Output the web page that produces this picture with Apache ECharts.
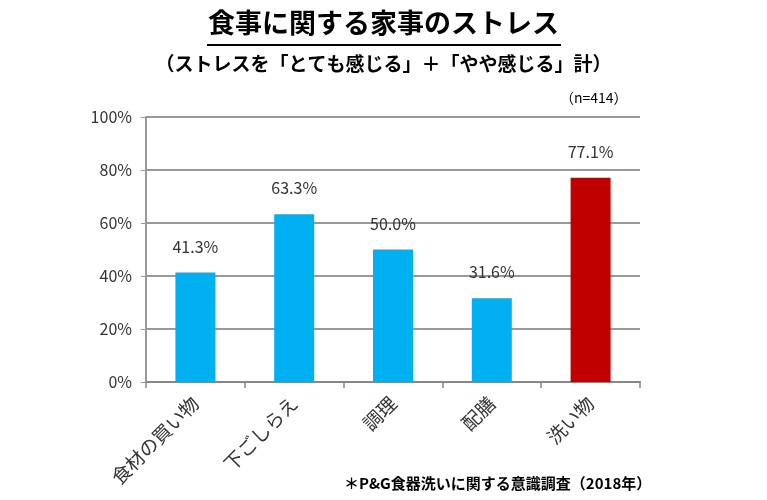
<!DOCTYPE html>
<html><head><meta charset="utf-8">
<script src="https://cdn.jsdelivr.net/npm/echarts@6/dist/echarts.min.js"></script>
<style>html,body{margin:0;padding:0;background:#fff}#c{width:767px;height:500px}</style>
</head><body><div id="c"></div>
<script>
const categories = ['食材の買い物','下ごしらえ','調理','配膳','洗い物'];
const values = [41.3, 63.3, 50.0, 31.6, 77.1];
const barColors = ['#00b0f0','#00b0f0','#00b0f0','#00b0f0','#c00000'];
const yTicks = [0, 20, 40, 60, 80, 100];
const titleText = '食事に関する家事のストレス';
const subtitleText = '（ストレスを「とても感じる」＋「やや感じる」計）';
const nText = '（n=414）';
const noteText = '＊P&G食器洗いに関する意識調査（2018年）';

const font = '"Noto Sans CJK JP", "Noto Sans", sans-serif';
const chart = echarts.init(document.getElementById('c'));
chart.setOption({
  animation: false,
  textStyle: { fontFamily: font },
  graphic: [
    { type: 'text', left: 'center', top: 9, style: { text: titleText, font: 'bold 27px ' + font, fill: '#000' } },
    { type: 'line', shape: { x1: 207, y1: 45, x2: 561, y2: 45 }, style: { stroke: '#000', lineWidth: 2 } },
    { type: 'text', left: 'center', top: 54, style: { text: subtitleText, font: 'bold 19px ' + font, fill: '#000' } },
    { type: 'text', left: 560, top: 91, style: { text: nText, font: '14px ' + font, fill: '#000' } },
    { type: 'text', left: 344, top: 476, style: { text: noteText, font: 'bold 15px ' + font, fill: '#000' } }
  ],
  grid: { left: 146, right: 127, top: 117, bottom: 118 },
  xAxis: {
    type: 'category', data: categories,
    axisLine: { lineStyle: { color: '#888', width: 2 } },
    axisTick: { show: true, length: 6, lineStyle: { color: '#888', width: 1.5 } },
    axisLabel: { rotate: 45, fontSize: 19, color: '#333', margin: 18 }
  },
  yAxis: {
    type: 'value', min: 0, max: 100, interval: 20,
    axisLine: { show: true, lineStyle: { color: '#999', width: 2 } },
    axisTick: { show: true, length: 5, inside: false, lineStyle: { color: '#999' } },
    splitLine: { lineStyle: { color: '#999', width: 2 } },
    axisLabel: { formatter: v => yTicks.includes(v) ? v + '%' : '', fontSize: 16, color: '#333', margin: 14 }
  },
  series: [{
    type: 'bar', barWidth: 40,
    data: values.map((v, i) => ({ value: v, itemStyle: { color: barColors[i] } })),
    label: { show: true, position: 'top', distance: 18, formatter: p => p.value.toFixed(1) + '%', fontSize: 16, color: '#333' }
  }]
});
</script></body></html>
